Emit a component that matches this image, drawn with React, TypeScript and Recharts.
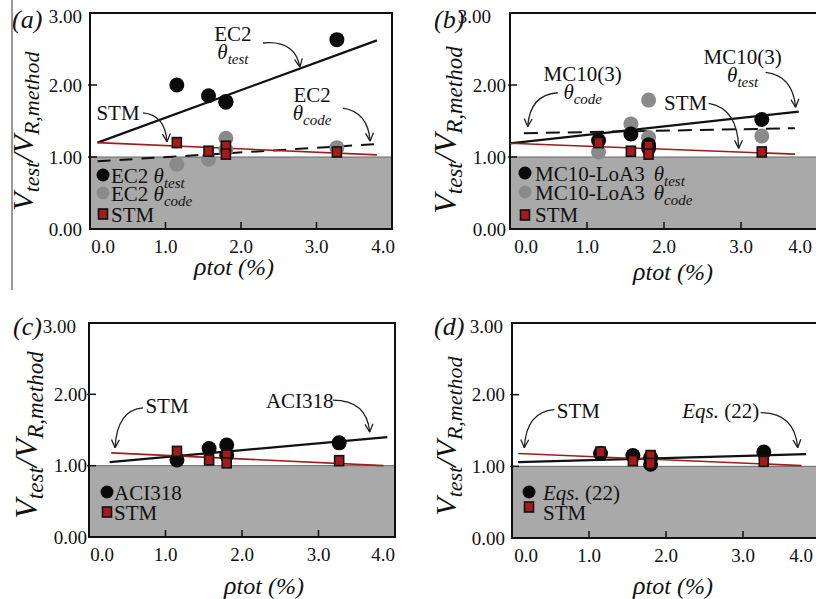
import React from 'react';
import {
  ScatterChart,
  Scatter,
  XAxis,
  YAxis,
  ReferenceArea,
  ReferenceLine,
  ReferenceDot,
} from 'recharts';

const FONT = "'Liberation Serif', 'Times New Roman', serif";
const fontStyle = { fontFamily: FONT };

// ρtot (%) of the tested specimens
const rhoTot = [1.15, 1.57, 1.8, 1.8, 3.27];

// Vtest / VR,method
const stmRatio = [1.2, 1.08, 1.15, 1.04, 1.07];
const ec2TestRatio = [2.0, 1.85, 1.76, 1.77, 2.63];
const ec2CodeRatio = [0.9, 0.97, 1.26, 1.1, 1.13];
const mc10TestRatio = [1.23, 1.32, 1.17, 1.12, 1.52];
const mc10CodeRatio = [1.07, 1.46, 1.79, 1.27, 1.29];
const aciRatio = [1.08, 1.24, 1.29, 1.15, 1.32];
const eqs22Ratio = [1.18, 1.15, 1.03, 1.12, 1.2];

// linear trends: start / end as [ρtot, ratio]
const stmTrendA = [[0.1, 1.2], [3.8, 1.03]];
const ec2TestTrend = [[0.1, 1.2], [3.8, 2.62]];
const ec2CodeTrend = [[0.1, 0.94], [3.8, 1.18]];
const stmTrendB = [[0.0, 1.19], [3.7, 1.04]];
const mc10TestTrend = [[0.0, 1.19], [3.75, 1.63]];
const mc10CodeTrend = [[0.18, 1.33], [3.7, 1.4]];
const stmTrendC = [[0.29, 1.18], [3.85, 1.0]];
const aciTrend = [[0.27, 1.05], [3.9, 1.4]];
const stmTrendD = [[0.08, 1.18], [3.76, 1.01]];
const eqs22Trend = [[0.08, 1.06], [3.82, 1.17]];

const xTicks = [0, 1, 2, 3, 4];
const yTicks = [0, 1, 2, 3];

type Run = [string, string, number?]; // text, n | i | s, dx
const pts = (ys: number[]) => rhoTot.map((x, i) => ({ x, y: ys[i] }));

const blackDot = (p: any) => <circle cx={p.cx} cy={p.cy} r={p.r || 7.5} fill="#0a0a0a" />;
const grayDot = (p: any) => <circle cx={p.cx} cy={p.cy} r={p.r || 7.5} fill="#8a8a8a" />;
const stmSquare = (p: any) => (
  <rect x={p.cx - 4.5} y={p.cy - 5} width={9} height={10} fill="#a51a1a" stroke="#111" strokeWidth={1.6} />
);

function runs(list: Run[], sub = 15, subDy = 5) {
  let low = false;
  return list.map(([t, s, dx], i) => {
    const isSub = s === 's';
    const dy = isSub === low ? 0 : isSub ? subDy : -subDy;
    low = isSub;
    return (
      <tspan
        key={i}
        dy={dy}
        dx={dx || 0}
        style={{ fontStyle: s === 'n' ? 'normal' : 'italic', fontSize: isSub ? sub : undefined }}
      >
        {t}
      </tspan>
    );
  });
}

type Note = {
  at: number[];
  lines: Run[][];
  tx: number;
  ty: number;
  gap?: number;
  from: number[];
  ctrl: number[];
};

function NoteShape({ cx, cy, note }: { cx: number; cy: number; note: Note }) {
  const [sx, sy] = note.from;
  const [qx, qy] = note.ctrl;
  const len = Math.hypot(qx, qy) || 1;
  const ux = -qx / len;
  const uy = -qy / len;
  const head = (a: number) => {
    const c = Math.cos(a);
    const s = Math.sin(a);
    return `M0 0 L${(-(ux * c - uy * s) * 9).toFixed(1)} ${(-(ux * s + uy * c) * 9).toFixed(1)}`;
  };
  return (
    <g transform={`translate(${cx},${cy})`} fill="#111">
      <path d={`M${sx} ${sy} Q${qx} ${qy} 0 0`} fill="none" stroke="#222" strokeWidth={1.3} />
      <path d={head(0.45) + ' ' + head(-0.45)} fill="none" stroke="#222" strokeWidth={1.3} />
      {note.lines.map((l, i) => (
        <text
          key={i}
          x={note.tx}
          y={note.ty + i * (note.gap || 18)}
          textAnchor="middle"
          style={{ ...fontStyle, fontSize: 21 }}
        >
          {runs(l)}
        </text>
      ))}
    </g>
  );
}

type Trend = { pts: number[][]; color: string; width: number; dash?: string };
type Series = { data: { x: number; y: number }[]; shape: any };

type PanelCfg = {
  left: number;
  top: number;
  width: number;
  margin: { top: number; right: number; bottom: number; left: number };
  yWidth: number;
  gap: number;
  topDx: number;
  endDx: number[];
  series: Series[];
  trends: Trend[];
  notes: Note[];
};

const redLine = '#9e1c1c';

const panels: PanelCfg[] = [
  {
    left: 0, top: 0, width: 410, margin: { top: 13, right: 18, bottom: 41, left: 0 }, yWidth: 90,
    gap: 8, topDx: 0, endDx: [13, -9],
    series: [
      { data: pts(ec2CodeRatio), shape: grayDot },
      { data: pts(ec2TestRatio), shape: blackDot },
      { data: pts(stmRatio), shape: stmSquare },
    ],
    trends: [
      { pts: ec2CodeTrend, color: '#111', width: 2, dash: '13 9' },
      { pts: ec2TestTrend, color: '#111', width: 2.2 },
      { pts: stmTrendA, color: redLine, width: 1.6 },
    ],
    notes: [
      { at: [2.78, 2.25], lines: [[['EC2', 'n']], [['θ', 'i'], ['test', 's']]], tx: -67, ty: -26, from: [-37, -24], ctrl: [-5, -27] },
      { at: [1.02, 1.21], lines: [[['STM', 'n']]], tx: -49, ty: -22, from: [-24, -29], ctrl: [-2, -27] },
      { at: [3.71, 1.22], lines: [[['EC2', 'n']], [['θ', 'i'], ['code', 's']]], tx: -58, ty: -39, from: [-27, -33], ctrl: [-2, -29] },
    ],
  },
  {
    left: 406, top: 0, width: 412, margin: { top: 13, right: 0, bottom: 41, left: 0 }, yWidth: 104,
    gap: 4, topDx: -15, endDx: [16, -14],
    series: [
      { data: pts(mc10CodeRatio), shape: grayDot },
      { data: pts(mc10TestRatio), shape: blackDot },
      { data: pts(stmRatio), shape: stmSquare },
    ],
    trends: [
      { pts: mc10CodeTrend, color: '#111', width: 2, dash: '14 8' },
      { pts: mc10TestTrend, color: '#111', width: 2.2 },
      { pts: stmTrendB, color: redLine, width: 1.6 },
    ],
    notes: [
      { at: [0.23, 1.42], lines: [[['MC10(3)', 'n']], [['θ', 'i'], ['code', 's']]], tx: 55, ty: -46, from: [30, -34], ctrl: [2, -32] },
      { at: [2.97, 1.12], lines: [[['STM', 'n']]], tx: -53, ty: -38, from: [-30, -45], ctrl: [-1, -40] },
      { at: [3.71, 1.69], lines: [[['MC10(3)', 'n']], [['θ', 'i'], ['test', 's']]], tx: -53, ty: -43, from: [-30, -35], ctrl: [-3, -32] },
    ],
  },
  {
    left: 0, top: 300, width: 410, margin: { top: 23, right: 15, bottom: 33, left: 0 }, yWidth: 89,
    gap: 2, topDx: -11, endDx: [13, -12],
    series: [
      { data: pts(aciRatio), shape: blackDot },
      { data: pts(stmRatio), shape: stmSquare },
    ],
    trends: [
      { pts: aciTrend, color: '#111', width: 2.2 },
      { pts: stmTrendC, color: redLine, width: 1.6 },
    ],
    notes: [
      { at: [0.34, 1.25], lines: [[['STM', 'n']]], tx: 52, ty: -35, from: [28, -40], ctrl: [2, -38] },
      { at: [3.67, 1.47], lines: [[['ACI318', 'n']]], tx: -70, ty: -24, from: [-37, -32], ctrl: [-3, -32] },
    ],
  },
  {
    left: 406, top: 300, width: 414, margin: { top: 23, right: 0, bottom: 32, left: 0 }, yWidth: 106,
    gap: 7, topDx: -2, endDx: [14, -15],
    series: [
      { data: pts(eqs22Ratio), shape: blackDot },
      { data: pts(stmRatio), shape: stmSquare },
    ],
    trends: [
      { pts: eqs22Trend, color: '#111', width: 2.2 },
      { pts: stmTrendD, color: redLine, width: 1.6 },
    ],
    notes: [
      { at: [0.16, 1.26], lines: [[['STM', 'n']]], tx: 54, ty: -30, from: [30, -38], ctrl: [2, -36] },
      { at: [3.71, 1.26], lines: [[['Eqs.', 'i'], [' (22)', 'n']]], tx: -77, ty: -30, from: [-37, -35], ctrl: [-3, -35] },
    ],
  },
];

function Panel({ cfg }: { cfg: PanelCfg }) {
  const xTick = (p: any) => {
    const v = p.payload.value;
    const dx = v === 0 ? cfg.endDx[0] : v === 4 ? cfg.endDx[1] : 0;
    return (
      <g>
        {v > 0 && v < 4 && <line x1={p.x} x2={p.x} y1={p.y} y2={p.y - 7} stroke="#111" strokeWidth={1.5} />}
        <text x={p.x + dx} y={p.y + 24} textAnchor="middle" style={{ ...fontStyle, fontSize: 19 }} fill="#111">
          {v.toFixed(1)}
        </text>
      </g>
    );
  };
  const yTick = (p: any) => {
    const v = p.payload.value;
    return (
      <g>
        {v > 0 && v < 3 && <line x1={p.x - 2} x2={p.x + 7} y1={p.y} y2={p.y} stroke="#111" strokeWidth={1.5} />}
        <text
          x={p.x - cfg.gap + (v === 3 ? cfg.topDx : 0)}
          y={p.y + 6.5 + (v === 3 ? 3 : 0)}
          textAnchor="end"
          style={{ ...fontStyle, fontSize: 19 }}
          fill="#111"
        >
          {v.toFixed(2)}
        </text>
      </g>
    );
  };
  return (
    <div style={{ position: 'absolute', left: cfg.left, top: cfg.top }}>
      <ScatterChart width={cfg.width} height={300} margin={cfg.margin}>
        <XAxis
          type="number"
          dataKey="x"
          domain={[0, 4]}
          ticks={xTicks}
          height={30}
          axisLine={false}
          tickLine={false}
          tickSize={0}
          tickMargin={0}
          tick={xTick}
          allowDataOverflow
        />
        <YAxis
          type="number"
          dataKey="y"
          domain={[0, 3]}
          ticks={yTicks}
          width={cfg.yWidth}
          axisLine={false}
          tickLine={false}
          tickSize={0}
          tickMargin={0}
          tick={yTick}
          allowDataOverflow
        />
        <ReferenceArea x1={0} x2={4} y1={0} y2={1} fill="#a9a9a9" fillOpacity={1} stroke="#666" strokeWidth={1} />
        {cfg.series.map((s, i) => (
          <Scatter key={i} data={s.data} shape={s.shape} isAnimationActive={false} />
        ))}
        {cfg.trends.map((t, i) => (
          <ReferenceLine
            key={i}
            segment={[
              { x: t.pts[0][0], y: t.pts[0][1] },
              { x: t.pts[1][0], y: t.pts[1][1] },
            ]}
            stroke={t.color}
            strokeWidth={t.width}
            strokeDasharray={t.dash}
          />
        ))}
        <ReferenceArea x1={0} x2={4} y1={0} y2={3} fill="none" stroke="#111" strokeWidth={2} />
        {cfg.notes.map((n, i) => (
          <ReferenceDot
            key={i}
            x={n.at[0]}
            y={n.at[1]}
            r={0}
            shape={(p: any) => <NoteShape cx={p.cx} cy={p.cy} note={n} />}
          />
        ))}
      </ScatterChart>
    </div>
  );
}

type LegendRow = { y: number; base: number; marker: 'black' | 'gray' | 'stm'; text: Run[] };
type Decor = {
  tag: string;
  tagX: number;
  tagY: number;
  yLab: { cx: number; cy: number; size: number };
  xLab: { cx: number; y: number };
  mx: number;
  tx: number;
  rows: LegendRow[];
};

const decor: Decor[] = [
  {
    tag: '(a)', tagX: 12, tagY: 28, yLab: { cx: 33, cy: 131, size: 30 }, xLab: { cx: 234, y: 275 }, mx: 103, tx: 111,
    rows: [
      { y: 175, base: 183, marker: 'black', text: [['EC2 ', 'n'], ['θ', 'i'], ['test', 's']] },
      { y: 193, base: 201, marker: 'gray', text: [['EC2 ', 'n'], ['θ', 'i'], ['code', 's']] },
      { y: 214, base: 222, marker: 'stm', text: [['STM', 'n']] },
    ],
  },
  {
    tag: '(b)', tagX: 434, tagY: 28, yLab: { cx: 456, cy: 130, size: 32 }, xLab: { cx: 673, y: 280 }, mx: 525, tx: 535,
    rows: [
      { y: 173, base: 181, marker: 'black', text: [['MC10-LoA3', 'n'], ['θ', 'i', 9], ['test', 's']] },
      { y: 192, base: 200, marker: 'gray', text: [['MC10-LoA3', 'n'], ['θ', 'i', 9], ['code', 's']] },
      { y: 215, base: 222, marker: 'stm', text: [['STM', 'n']] },
    ],
  },
  {
    tag: '(c)', tagX: 13, tagY: 335, yLab: { cx: 37, cy: 435, size: 32 }, xLab: { cx: 264, y: 594 }, mx: 107, tx: 114,
    rows: [
      { y: 492, base: 500, marker: 'black', text: [['ACI318', 'n']] },
      { y: 512, base: 520, marker: 'stm', text: [['STM', 'n']] },
    ],
  },
  {
    tag: '(d)', tagX: 434, tagY: 335, yLab: { cx: 456, cy: 436, size: 30 }, xLab: { cx: 673, y: 594 }, mx: 529, tx: 543,
    rows: [
      { y: 492, base: 500, marker: 'black', text: [['Eqs.', 'i'], [' (22)', 'n']] },
      { y: 507, base: 520, marker: 'stm', text: [['STM', 'n']] },
    ],
  },
];

function Overlay() {
  return (
    <svg
      width={816}
      height={599}
      style={{ position: 'absolute', left: 0, top: 0, pointerEvents: 'none', ...fontStyle }}
      fill="#111"
    >
      <line x1={12} y1={0} x2={12} y2={290} stroke="#777" strokeWidth={1.5} />
      {decor.map((d) => {
        const s = d.yLab.size;
        const sub = Math.round(s * 0.72);
        const sd = Math.round(s * 0.2);
        return (
          <g key={d.tag}>
            <text x={d.tagX} y={d.tagY} style={{ ...fontStyle, fontSize: 26, fontStyle: 'italic' }}>
              {d.tag}
            </text>
            <text
              x={d.yLab.cx}
              y={d.yLab.cy}
              transform={`rotate(-90 ${d.yLab.cx} ${d.yLab.cy})`}
              textAnchor="middle"
              style={{ ...fontStyle, fontSize: s, fontStyle: 'italic' }}
            >
              <tspan>V</tspan>
              <tspan style={{ fontSize: sub }} dy={sd}>test</tspan>
              <tspan dy={-sd}>/V</tspan>
              <tspan style={{ fontSize: sub }} dy={sd}>R,method</tspan>
            </text>
            <text
              x={d.xLab.cx}
              y={d.xLab.y}
              textAnchor="middle"
              style={{ ...fontStyle, fontSize: 24, fontStyle: 'italic' }}
            >
              <tspan style={{ fontSize: 26 }}>ρ</tspan>
              <tspan>tot (%)</tspan>
            </text>
            {d.rows.map((r, i) => (
              <g key={i}>
                {r.marker === 'black' && blackDot({ cx: d.mx, cy: r.y, r: 6.5 })}
                {r.marker === 'gray' && grayDot({ cx: d.mx, cy: r.y, r: 6.5 })}
                {r.marker === 'stm' && stmSquare({ cx: d.mx, cy: r.y })}
                <text x={d.tx} y={r.base} style={{ ...fontStyle, fontSize: 21 }}>
                  {runs(r.text)}
                </text>
              </g>
            ))}
          </g>
        );
      })}
    </svg>
  );
}

export default function App() {
  return (
    <div
      style={{
        position: 'absolute',
        left: 0,
        top: 0,
        width: 816,
        height: 599,
        overflow: 'hidden',
        background: '#fff',
        ...fontStyle,
      }}
    >
      {panels.map((p, i) => (
        <Panel key={i} cfg={p} />
      ))}
      <Overlay />
    </div>
  );
}
